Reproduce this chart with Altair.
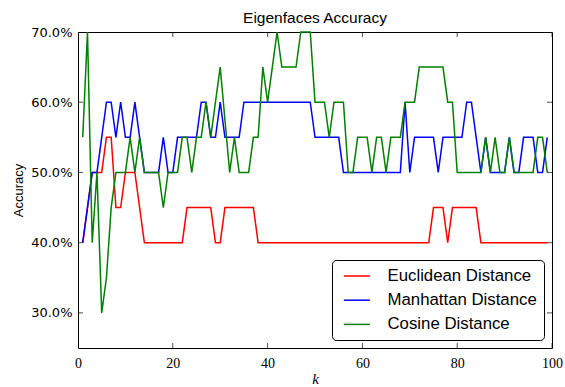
import altair as alt
import pandas as pd

k_values = list(range(1, 100))

euclidean = [40, 45, 50, 50, 50, 55, 55, 45, 45, 50,
             50, 50, 45, 40, 40, 40, 40, 40, 40, 40,
             40, 40, 45, 45, 45, 45, 45, 45, 40, 40,
             45, 45, 45, 45, 45, 45, 45, 40, 40, 40,
             40, 40, 40, 40, 40, 40, 40, 40, 40, 40,
             40, 40, 40, 40, 40, 40, 40, 40, 40, 40,
             40, 40, 40, 40, 40, 40, 40, 40, 40, 40,
             40, 40, 40, 40, 45, 45, 45, 40, 45, 45,
             45, 45, 45, 45, 40, 40, 40, 40, 40, 40,
             40, 40, 40, 40, 40, 40, 40, 40, 40]

manhattan = [40, 45, 50, 50, 55, 60, 60, 55, 60, 55,
             55, 60, 55, 50, 50, 50, 50, 55, 50, 50,
             55, 55, 55, 55, 55, 60, 60, 55, 55, 60,
             55, 55, 55, 55, 60, 60, 60, 60, 60, 60,
             60, 60, 60, 60, 60, 60, 60, 60, 60, 55,
             55, 55, 55, 55, 55, 50, 50, 50, 50, 50,
             50, 50, 50, 50, 50, 50, 50, 50, 60, 50,
             55, 55, 55, 55, 55, 50, 55, 55, 55, 55,
             55, 60, 60, 55, 50, 55, 50, 50, 50, 50,
             55, 50, 50, 55, 55, 55, 50, 50, 55]

cosine = [55, 70, 40, 50, 30, 35, 45, 50, 50, 50,
          55, 50, 55, 50, 50, 50, 50, 45, 50, 50,
          50, 55, 55, 50, 55, 55, 60, 55, 60, 65,
          57.5, 50, 55, 50, 50, 50, 55, 55, 65, 60,
          65, 70, 65, 65, 65, 65, 70, 70, 70, 60,
          60, 60, 55, 60, 60, 60, 50, 50, 55, 55,
          55, 50, 55, 55, 50, 55, 55, 55, 60, 60,
          60, 65, 65, 65, 65, 65, 65, 60, 60, 50,
          50, 50, 50, 50, 50, 55, 50, 55, 50, 50,
          55, 50, 50, 50, 50, 50, 55, 55, 50]

series_names = ["Euclidean Distance", "Manhattan Distance", "Cosine Distance"]
series_colors = ["#ff0000", "#0000ff", "#008000"]
x_ticks = [0, 20, 40, 60, 80, 100]
y_ticks = [30, 40, 50, 60, 70]

rows = []
for name, vals in zip(series_names, [euclidean, manhattan, cosine]):
    for k, v in zip(k_values, vals):
        rows.append({"k": k, "acc": v, "series": name})
df = pd.DataFrame(rows)

xscale = alt.Scale(domain=[0, 100], nice=False, zero=False)
yscale = alt.Scale(domain=[25, 70], nice=False, zero=False)

x_axis = alt.Axis(values=x_ticks, tickSize=0, domain=False, grid=False, labelFlush=False,
                  labelFont="Liberation Serif", labelFontSize=14, labelColor="black",
                  labelPadding=8, titleFont="Liberation Serif", titleFontStyle="italic",
                  titleFontWeight="normal", titleFontSize=15, titleColor="black",
                  titlePadding=1)
y_axis = alt.Axis(values=y_ticks, tickSize=0, domain=False, grid=False, labelFlush=False,
                  labelExpr="format(datum.value, '.1f') + '%'",
                  labelFont="DejaVu Sans", labelFontSize=13, labelColor="black",
                  labelPadding=6, titleFont="Liberation Sans", titleFontSize=13,
                  titleFontWeight="normal", titleColor="black", titlePadding=5)

X = lambda f: alt.X(f, scale=xscale, axis=x_axis, title="k")
Y = lambda f: alt.Y(f, scale=yscale, axis=y_axis, title="Accuracy")

lines = alt.Chart(df).mark_line(strokeWidth=1.5).encode(
    x=X("k:Q"),
    y=Y("acc:Q"),
    color=alt.Color("series:N", scale=alt.Scale(domain=series_names, range=series_colors),
                    sort=series_names, title=None,
                    legend=alt.Legend(orient="bottom-right", offset=8,
                                      symbolType="M-0.48,0H2.52", symbolSize=300,
                                      symbolStrokeWidth=1.5,
                                      labelFont="Liberation Sans", labelFontSize=16.8,
                                      labelColor="black", labelOffset=30,
                                      padding=6.5, rowPadding=5.2,
                                      strokeColor="black", cornerRadius=4,
                                      fillColor="white")),
    order=alt.Order("k:Q"),
)

xt = pd.DataFrame({"v": x_ticks})
yt = pd.DataFrame({"v": y_ticks})

tick_style = dict(size=10, thickness=1, color="black", clip=True)
xt_bottom = alt.Chart(xt).mark_tick(orient="vertical", **tick_style).encode(
    x=X("v:Q"), y=alt.datum(25))
xt_top = alt.Chart(xt).mark_tick(orient="vertical", **tick_style).encode(
    x=X("v:Q"), y=alt.datum(70))
yt_left = alt.Chart(yt).mark_tick(orient="horizontal", **tick_style).encode(
    y=Y("v:Q"), x=alt.datum(0))
yt_right = alt.Chart(yt).mark_tick(orient="horizontal", **tick_style).encode(
    y=Y("v:Q"), x=alt.datum(100))

chart = alt.layer(lines, xt_bottom, xt_top, yt_left, yt_right).properties(
    width=474, height=316,
    title=alt.TitleParams("Eigenfaces Accuracy", font="Liberation Sans", fontSize=15.5,
                          fontWeight="normal", color="black", offset=0, anchor="middle"),
    autosize=alt.AutoSizeParams(type="none"),
    padding={"left": 78, "top": 32, "right": 13, "bottom": 39},
    background="white",
).configure_view(stroke="black", strokeWidth=1)

chart.save("out.html", embed_options={"renderer": "svg", "actions": False})
